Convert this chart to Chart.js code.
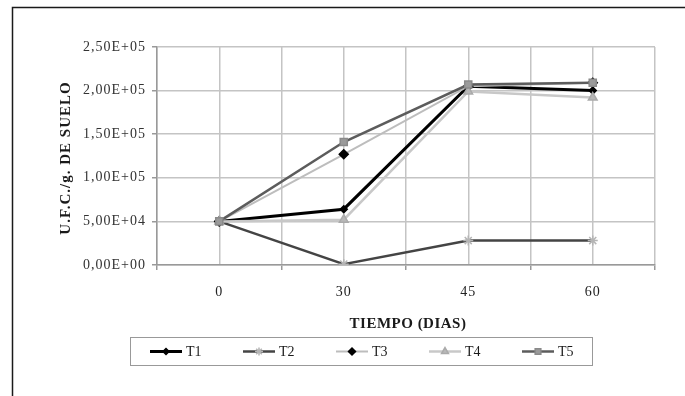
<!DOCTYPE html>
<html>
<head>
<meta charset="utf-8">
<script src="https://cdn.jsdelivr.net/npm/chart.js@4.4.1/dist/chart.umd.min.js"></script>
<style>
  html, body { margin: 0; padding: 0; background: #fff; }
  #wrap { width: 685px; height: 396px; position: relative; }
</style>
</head>
<body>
<div id="wrap"><canvas id="c" width="685" height="396"></canvas></div>
<script>
// Sampling days and bacterial counts (U.F.C./g of soil) per treatment
const categories = ['0', '30', '45', '60'];
const seriesNames = ['T1', 'T2', 'T3', 'T4', 'T5'];
const t1 = [50000, 64000, 205000, 200000];
const t2 = [50000, 1000, 28000, 28000];
const t3 = [50000, 127000, 205000, 209000];
const t4 = [50000, 52000, 199000, 192000];
const t5 = [50000, 141000, 207000, 209000];
const yTicks = [0, 50000, 100000, 150000, 200000, 250000];

const SERIF = '"Liberation Serif", "Times New Roman", serif';

// Each category sits in the middle of its own band: band edges at even x, centers at odd x
const toPoints = vals => vals.map((v, i) => ({ x: 2 * i + 1, y: v }));

function sci(v) {
  if (v === 0) return '0,00E+00';
  const e = Math.floor(Math.log10(Math.abs(v)));
  const m = v / Math.pow(10, e);
  const exp = (e < 0 ? '-' : '+') + String(Math.abs(e)).padStart(2, '0');
  return m.toFixed(2).replace('.', ',') + 'E' + exp;
}

const styles = [
  { line: '#000000', width: 3,   marker: 'rectRot',  mFill: '#000000', mStroke: '#000000', r: 3.5 },
  { line: '#444444', width: 2.5, marker: 'star',     mFill: '#bbbbbb', mStroke: '#b5b5b5', r: 5 },
  { line: '#bdbdbd', width: 2,   marker: 'rectRot',  mFill: '#000000', mStroke: '#000000', r: 4.5 },
  { line: '#c8c8c8', width: 2.5, marker: 'triangle', mFill: '#b8b8b8', mStroke: '#aaaaaa', r: 5 },
  { line: '#5c5c5c', width: 2.5, marker: 'rect',     mFill: '#9a9a9a', mStroke: '#8a8a8a', r: 5 }
];
const values = [t1, t2, t3, t4, t5];

const datasets = seriesNames.map((name, i) => ({
  label: name,
  data: toPoints(values[i]),
  borderColor: styles[i].line,
  borderWidth: styles[i].width,
  pointStyle: styles[i].marker,
  pointRadius: styles[i].r,
  pointBackgroundColor: styles[i].mFill,
  pointBorderColor: styles[i].mStroke,
  pointBorderWidth: 1.5,
  tension: 0,
  fill: false,
  order: seriesNames.length - i
}));

// Frame, axis titles and the boxed legend below the plot
const decor = {
  id: 'decor',
  beforeDraw(chart) {
    const ctx = chart.ctx;
    ctx.save();
    ctx.fillStyle = '#ffffff';
    ctx.fillRect(0, 0, chart.width, chart.height);
    ctx.strokeStyle = '#1a1a1a';
    ctx.lineWidth = 1.5;
    ctx.beginPath();
    ctx.moveTo(12.5, chart.height + 2);
    ctx.lineTo(12.5, 7.5);
    ctx.lineTo(chart.width + 2, 7.5);
    ctx.stroke();
    ctx.restore();
    // slightly open lettering for the tick labels
    ctx.letterSpacing = '1px';
  },
  afterDraw(chart) {
    const ctx = chart.ctx;
    const area = chart.chartArea;
    ctx.save();
    ctx.fillStyle = '#1a1a1a';
    ctx.textAlign = 'center';
    ctx.textBaseline = 'middle';
    // x title
    ctx.letterSpacing = '0.5px';
    ctx.font = 'bold 15px ' + SERIF;
    ctx.fillText('TIEMPO (DIAS)', (area.left + area.right) / 2 + 2, 324);
    // y title
    ctx.letterSpacing = '1px';
    ctx.font = 'bold 15px ' + SERIF;
    ctx.translate(66, (area.top + area.bottom) / 2 + 2);
    ctx.rotate(-Math.PI / 2);
    ctx.fillText('U.F.C./g. DE SUELO', 0, 0);
    ctx.restore();

    // legend
    ctx.save();
    ctx.letterSpacing = '0px';
    const bx = 130.5, by = 337.5, bw = 462, bh = 28;
    ctx.strokeStyle = '#999999';
    ctx.lineWidth = 1;
    ctx.strokeRect(bx, by, bw, bh);
    const cy = by + bh / 2;
    chart.data.datasets.forEach((ds, i) => {
      const x0 = 150 + i * 93;
      ctx.strokeStyle = ds.borderColor;
      ctx.lineWidth = ds.borderWidth;
      ctx.beginPath();
      ctx.moveTo(x0, cy);
      ctx.lineTo(x0 + 32, cy);
      ctx.stroke();
      ctx.fillStyle = ds.pointBackgroundColor;
      ctx.strokeStyle = ds.pointBorderColor;
      ctx.lineWidth = 1.5;
      Chart.helpers.drawPoint(ctx, {
        pointStyle: ds.pointStyle,
        radius: Math.max(3, ds.pointRadius - 1),
        borderWidth: 1.5,
        rotation: 0
      }, x0 + 16, cy);
      ctx.fillStyle = '#1a1a1a';
      ctx.font = '14px ' + SERIF;
      ctx.textAlign = 'left';
      ctx.textBaseline = 'middle';
      ctx.fillText(ds.label, x0 + 36, cy + 1);
    });
    ctx.restore();
  }
};

new Chart(document.getElementById('c'), {
  type: 'line',
  data: { datasets },
  plugins: [decor],
  options: {
    responsive: false,
    animation: false,
    devicePixelRatio: 1,
    layout: { padding: { top: 47, right: 30, bottom: 0, left: 0 } },
    plugins: { legend: { display: false }, tooltip: { enabled: false } },
    scales: {
      x: {
        type: 'linear',
        min: 0,
        max: 2 * categories.length,
        afterFit(scale) { scale.height = 131; },
        afterBuildTicks(scale) {
          scale.ticks = [];
          for (let v = 0; v <= 2 * categories.length; v++) scale.ticks.push({ value: v });
        },
        ticks: {
          autoSkip: false,
          maxRotation: 0,
          padding: 14,
          color: '#222222',
          font: { family: SERIF, size: 14 },
          callback: v => (v % 2 === 1 ? categories[(v - 1) / 2] : '')
        },
        grid: {
          color: '#c4c4c4',
          lineWidth: 1.5,
          tickLength: 5,
          tickColor: c => (c.tick && c.tick.value % 2 === 0 ? '#999999' : 'rgba(0,0,0,0)')
        },
        border: { color: '#999999', width: 1.5 }
      },
      y: {
        min: 0,
        max: 250000,
        afterFit(scale) { scale.width = 157; },
        afterBuildTicks(scale) { scale.ticks = yTicks.map(v => ({ value: v })); },
        ticks: {
          padding: 6,
          color: '#333333',
          font: { family: SERIF, size: 14 },
          callback: v => sci(v)
        },
        grid: { color: '#c4c4c4', lineWidth: 1.5, tickLength: 5, tickColor: '#999999' },
        border: { color: '#999999', width: 1.5 }
      }
    }
  }
});
</script>
</body>
</html>
